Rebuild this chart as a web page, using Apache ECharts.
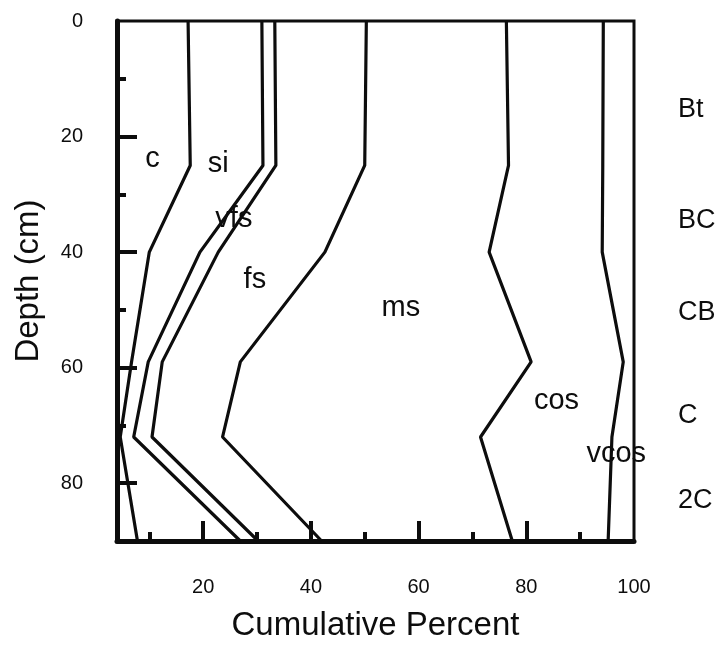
<!DOCTYPE html>
<html>
<head>
<meta charset="utf-8">
<title>Cumulative particle size with depth</title>
<script src="https://cdn.jsdelivr.net/npm/echarts@6/dist/echarts.min.js"></script>
<style>
  html, body { margin: 0; padding: 0; background: #ffffff; }
  #chart { width: 724px; height: 646px; }
</style>
</head>
<body>
<div id="chart"></div>
<script>
// Sampling depths (cm) shared by every cumulative boundary line
const depths = [0, 25, 40, 59, 72, 90];

// Cumulative percent at each depth, one array per size-class boundary
const clayTop   = [17.2, 17.6, 10.0, 6.7, 4.6, 7.8];   // c
const siltTop   = [30.9, 31.1, 19.4, 9.8, 7.1, 26.9];  // c + si
const vfsTop    = [33.3, 33.5, 22.8, 12.4, 10.5, 30.2]; // + vfs
const fsTop     = [50.3, 50.0, 42.6, 26.9, 23.6, 42.0]; // + fs
const msTop     = [76.3, 76.7, 73.1, 80.9, 71.5, 77.4]; // + ms
const cosTop    = [94.3, 94.2, 94.1, 98.0, 95.9, 95.2]; // + cos

// Size-class names placed inside their bands
const bandNames = ['c', 'si', 'vfs', 'fs', 'ms', 'cos', 'vcos'];
const bandX     = [10.6, 22.8, 25.7, 29.6, 56.7, 85.6, 96.7];
const bandDepth = [23.8, 24.7, 34.3, 44.9, 49.7, 65.8, 75.0];

// Soil horizons listed beside the profile
const horizonNames = ['Bt', 'BC', 'CB', 'C', '2C'];
const horizonDepth = [15.3, 34.5, 50.4, 68.3, 83.0];

// Axis ticks and labels
const xLabelValues = [20, 40, 60, 80, 100];
const xMajorTicks  = [20, 40, 60, 80];
const xMinorTicks  = [10, 30, 50, 70, 90];
const yLabelValues = [0, 20, 40, 60, 80];
const yMajorTicks  = [20, 40, 60, 80];
const yMinorTicks  = [10, 30, 50, 70];

const INK = '#0d0d0d';
const FONT = 'Liberation Sans, Arial, Helvetica, sans-serif';

const boundaries = [clayTop, siltTop, vfsTop, fsTop, msTop, cosTop];
const boundaryNames = ['c', 'si', 'vfs', 'fs', 'ms', 'cos'];

const lineSeries = boundaries.map((xs, i) => ({
  name: boundaryNames[i],
  type: 'line',
  xAxisIndex: 0,
  yAxisIndex: 0,
  data: xs.map((x, k) => [x, depths[k]]),
  symbol: 'none',
  silent: true,
  z: 5,
  lineStyle: { color: INK, width: 3.2 }
}));

const textLabel = (size) => ({
  show: true,
  formatter: '{b}',
  color: INK,
  opacity: 1,
  fontFamily: FONT,
  fontSize: size
});

const bandLabelSeries = {
  type: 'scatter',
  xAxisIndex: 0,
  yAxisIndex: 0,
  symbolSize: 0,
  silent: true,
  clip: false,
  z: 3,
  itemStyle: { opacity: 1 },
  data: bandNames.map((n, i) => ({ name: n, value: [bandX[i], bandDepth[i]] })),
  label: Object.assign(textLabel(29), { position: 'inside' })
};

const horizonSeries = {
  type: 'scatter',
  xAxisIndex: 0,
  yAxisIndex: 0,
  symbolSize: 0,
  silent: true,
  clip: false,
  itemStyle: { opacity: 1 },
  data: horizonNames.map((n, i) => ({ name: n, value: [100, horizonDepth[i]] })),
  label: Object.assign(textLabel(27), { position: 'right', distance: 44 })
};

const xBase = {
  type: 'value',
  min: 4,
  max: 100,
  position: 'bottom',
  splitLine: { show: false }
};
const yBase = {
  type: 'value',
  min: 0,
  max: 90,
  inverse: true,
  position: 'left',
  splitLine: { show: false }
};

const option = {
  animation: false,
  backgroundColor: '#ffffff',
  grid: {
    left: 117, right: 90, top: 21, bottom: 105,
    outerBoundsMode: 'none',
    containLabel: false,
    show: true,
    borderColor: INK,
    borderWidth: 3,
    backgroundColor: 'transparent'
  },
  xAxis: [
    Object.assign({}, xBase, {
      name: 'Cumulative Percent',
      nameLocation: 'middle',
      nameGap: 68,
      nameTextStyle: { color: INK, fontFamily: FONT, fontSize: 33 },
      axisLine: { show: true, onZero: false, lineStyle: { color: INK, width: 5 } },
      axisTick: { show: true, inside: true, length: 20, customValues: xMajorTicks,
                  lineStyle: { color: INK, width: 4 } },
      axisLabel: { show: true, customValues: xLabelValues, margin: 36,
                   color: INK, fontFamily: FONT, fontSize: 20 }
    }),
    Object.assign({}, xBase, {
      axisLine: { show: false, onZero: false },
      axisTick: { show: true, inside: true, length: 9, customValues: xMinorTicks,
                  lineStyle: { color: INK, width: 4 } },
      axisLabel: { show: false }
    })
  ],
  yAxis: [
    Object.assign({}, yBase, {
      name: 'Depth (cm)',
      nameLocation: 'middle',
      nameGap: 72,
      nameRotate: 90,
      nameTextStyle: { color: INK, fontFamily: FONT, fontSize: 33 },
      axisLine: { show: true, onZero: false, lineStyle: { color: INK, width: 5 } },
      axisTick: { show: true, inside: true, length: 20, customValues: yMajorTicks,
                  lineStyle: { color: INK, width: 4 } },
      axisLabel: { show: true, customValues: yLabelValues, margin: 34,
                   color: INK, fontFamily: FONT, fontSize: 20 }
    }),
    Object.assign({}, yBase, {
      axisLine: { show: false, onZero: false },
      axisTick: { show: true, inside: true, length: 9, customValues: yMinorTicks,
                  lineStyle: { color: INK, width: 4 } },
      axisLabel: { show: false }
    })
  ],
  series: [bandLabelSeries].concat(lineSeries, [horizonSeries])
};

const chart = echarts.init(document.getElementById('chart'), null, { renderer: 'canvas' });
chart.setOption(option);
</script>
</body>
</html>
